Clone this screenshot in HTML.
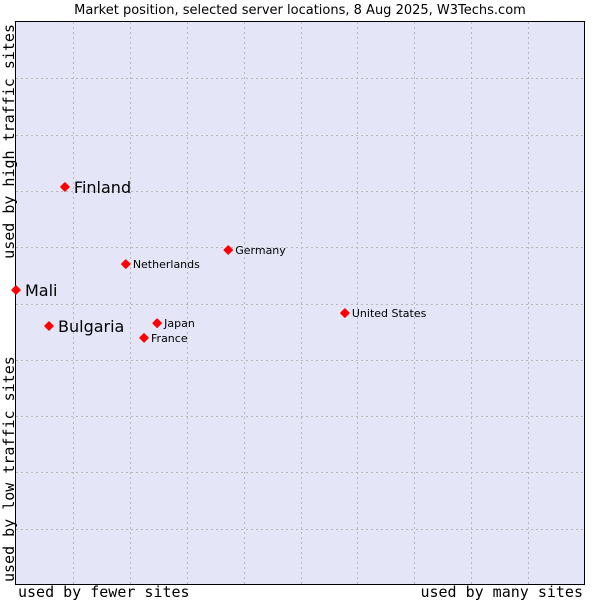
<!DOCTYPE html>
<html><head><meta charset="utf-8"><style>
body{margin:0;background:#fff;}
svg text{font-family:"DejaVu Sans","Liberation Sans",sans-serif;fill:#000;}
.mono{font-family:"DejaVu Sans Mono","Liberation Mono",monospace !important;font-size:15px;}
</style></head><body>
<svg width="600" height="600" xmlns="http://www.w3.org/2000/svg">
<text x="300" y="14" text-anchor="middle" font-size="13">Market position, selected server locations, 8 Aug 2025, W3Techs.com</text>
<rect x="15.5" y="21.5" width="569" height="563" fill="#e4e6f8" stroke="#000"/>
<g id="grid"></g>
<g id="pts"></g>
<text class="mono" x="18" y="597">used by fewer sites</text>
<text class="mono" x="583" y="597" text-anchor="end">used by many sites</text>
<text class="mono" transform="translate(14,582) rotate(-90)">used by low traffic sites</text>
<text class="mono" transform="translate(14,24) rotate(-90)" text-anchor="end">used by high traffic sites</text>
</svg>
<script>
const names=["Finland","Mali","Bulgaria","Netherlands","Germany","Japan","France","United States"];
const xs=[8.6,0,5.8,19.3,37.3,24.8,22.5,57.8];
const ys=[70.7,52.4,46.0,57.0,59.5,46.5,43.9,48.3];
const big=[1,1,1,0,0,0,0,0];
const L=16,R=585,T=22,B=585;
const sx=v=>L+v/100*(R-L), sy=v=>B-v/100*(B-T);
const NS="http://www.w3.org/2000/svg";
const g=document.getElementById('grid');
for(let i=1;i<10;i++){
 let l=document.createElementNS(NS,'line');
 const x=Math.round(sx(i*10))+0.5;
 l.setAttribute('x1',x);l.setAttribute('x2',x);l.setAttribute('y1',T);l.setAttribute('y2',B);
 l.setAttribute('stroke','#b8b8b8');l.setAttribute('stroke-dasharray','2,3');
 
 
 g.appendChild(l);
 let h=document.createElementNS(NS,'line');
 const y=Math.round(sy(i*10))+0.5;
 h.setAttribute('x1',L);h.setAttribute('x2',R);h.setAttribute('y1',y);h.setAttribute('y2',y);
 h.setAttribute('stroke','#b8b8b8');h.setAttribute('stroke-dasharray','2,3');
 
 
 g.appendChild(h);
}
const p=document.getElementById('pts');
names.forEach((n,i)=>{
 const x=sx(xs[i]),y=sy(ys[i]);
 let c=document.createElementNS(NS,'path');
 c.setAttribute('d',`M${x-4},${y}L${x},${y-4}L${x+4},${y}L${x},${y+4}Z`);
 c.setAttribute('fill','#f00');
 c.setAttribute('stroke','#f00');
 c.setAttribute('stroke-width','1.5');
 c.setAttribute('stroke-linejoin','round');
 
 
 p.appendChild(c);
 let t=document.createElementNS(NS,'text');
 t.setAttribute('x',x+(big[i]?9:7));t.setAttribute('y',y+(big[i]?6:4));
 t.setAttribute('font-size',big[i]?16:11);
 t.textContent=n;
 
 
 p.appendChild(t);
});
</script>
</body></html>
